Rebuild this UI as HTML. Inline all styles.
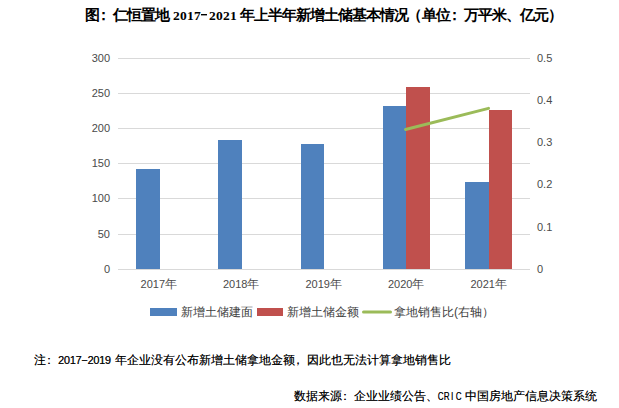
<!DOCTYPE html>
<html><head><meta charset="utf-8">
<style>
html,body{margin:0;padding:0;background:#fff;}
body{width:619px;height:408px;position:relative;overflow:hidden;font-family:"Liberation Sans",sans-serif;}
.a{position:absolute;white-space:nowrap;line-height:1;}
.t{font-weight:bold;color:#000;font-size:15px;letter-spacing:-1px;}
.tn{font-family:"Liberation Serif",serif;font-weight:bold;font-size:13.5px;letter-spacing:0.25px;color:#000;}
.yl{font-size:11px;color:#4a4a4a;}
.xl{font-size:11px;color:#4a4a4a;}
.xl span{font-size:12px;}
.lg{font-size:12px;color:#404040;}
.nt{font-size:12px;color:#000;font-weight:500;text-shadow:0.35px 0 0 rgba(0,0,0,.6);}
.nn{font-size:11px;letter-spacing:-0.3px;color:#000;text-shadow:0.35px 0 0 rgba(0,0,0,.6);}
.nm{font-size:11px;color:#000;text-shadow:0.35px 0 0 rgba(0,0,0,.6);}
.nm b{display:inline-block;width:6px;text-align:center;font-weight:normal;transform:scaleX(0.72);}
</style></head><body>
<div class="a t" style="left:85px;top:7px;">图</div><div class="a t" style="left:95.5px;top:7px;">：</div><div class="a t" style="left:113px;top:7px;">仁恒置地</div>
<div class="a tn" style="left:173px;top:9px;">2017</div><div class="a" style="left:201px;top:14px;width:6px;height:1px;background:#000"></div><div class="a" style="left:201px;top:15px;width:6px;height:1px;background:#999"></div><div class="a tn" style="left:209px;top:9px;">2021</div>
<div class="a t" style="left:240px;top:7px;">年上半年新增土储基本情况</div><div class="a t" style="left:407px;top:7px;">（</div><div class="a t" style="left:422px;top:7px;">单位</div><div class="a t" style="left:446.5px;top:7px;">：</div><div class="a t" style="left:464px;top:7px;">万平米、亿元）</div>

<svg class="a" style="left:0;top:0" width="619" height="408" xmlns="http://www.w3.org/2000/svg">
<g fill="#d9d9d9">
<rect x="118" y="58" width="412" height="1"/>
<rect x="118" y="93" width="412" height="1"/>
<rect x="118" y="128" width="412" height="1"/>
<rect x="118" y="163" width="412" height="1"/>
<rect x="118" y="198" width="412" height="1"/>
<rect x="118" y="234" width="412" height="1"/>
<rect x="118" y="269" width="412" height="1"/>
</g>
<g fill="#4f81bd">
<rect x="136" y="169" width="24" height="100"/>
<rect x="218" y="140" width="24" height="129"/>
<rect x="301" y="144" width="23" height="125"/>
<rect x="383" y="106" width="23" height="163"/>
<rect x="465" y="182" width="24" height="87"/>
</g>
<g fill="#c0504d">
<rect x="406" y="87" width="24" height="182"/>
<rect x="489" y="110" width="23" height="159"/>
</g>
<line x1="405.5" y1="129.5" x2="488.5" y2="108.4" stroke="#9bbb59" stroke-width="3" stroke-linecap="round"/>
<rect x="150" y="308" width="27" height="8" fill="#4f81bd"/>
<rect x="257" y="308" width="26" height="8" fill="#c0504d"/>
<line x1="363.5" y1="312" x2="390.5" y2="312" stroke="#9bbb59" stroke-width="3" stroke-linecap="round"/>
</svg>

<div class="a yl" style="right:509px;top:53px;">300</div>
<div class="a yl" style="right:509px;top:88px;">250</div>
<div class="a yl" style="right:509px;top:123px;">200</div>
<div class="a yl" style="right:509px;top:158px;">150</div>
<div class="a yl" style="right:509px;top:193px;">100</div>
<div class="a yl" style="right:509px;top:229px;">50</div>
<div class="a yl" style="right:509px;top:264px;">0</div>

<div class="a yl" style="left:537px;top:53px;">0.5</div>
<div class="a yl" style="left:537px;top:95px;">0.4</div>
<div class="a yl" style="left:537px;top:137px;">0.3</div>
<div class="a yl" style="left:537px;top:179px;">0.2</div>
<div class="a yl" style="left:537px;top:222px;">0.1</div>
<div class="a yl" style="left:537px;top:264px;">0</div>

<div class="a xl" style="left:140.6px;top:278px;">2017<span>年</span></div>
<div class="a xl" style="left:223px;top:278px;">2018<span>年</span></div>
<div class="a xl" style="left:305.4px;top:278px;">2019<span>年</span></div>
<div class="a xl" style="left:388px;top:278px;">2020<span>年</span></div>
<div class="a xl" style="left:470.4px;top:278px;">2021<span>年</span></div>

<div class="a lg" style="left:181px;top:306px;">新增土储建面</div>
<div class="a lg" style="left:287px;top:306px;">新增土储金额</div>
<div class="a lg" style="left:394px;top:306px;">拿地销售比(右轴）</div>

<div class="a nt" style="left:34px;top:354px;">注</div><div class="a nt" style="left:43px;top:354px;">：</div><div class="a nn" style="left:58px;top:355px;">2017−2019</div><div class="a nt" style="left:115px;top:354px;">年企业没有公布新增土储拿地金额</div><div class="a nt" style="left:292px;top:354px;">，</div><div class="a nt" style="left:307px;top:354px;">因此也无法计算拿地销售比</div>
<div class="a nt" style="left:294px;top:390px;">数据来源</div><div class="a nt" style="left:339px;top:390px;">：</div><div class="a nt" style="left:354px;top:390px;">企业业绩公告、</div><div class="a nm" style="left:437px;top:391px;"><b>C</b><b>R</b><b>I</b><b>C</b></div><div class="a nt" style="left:465px;top:390px;">中国房地产信息决策系统</div>
</body></html>
